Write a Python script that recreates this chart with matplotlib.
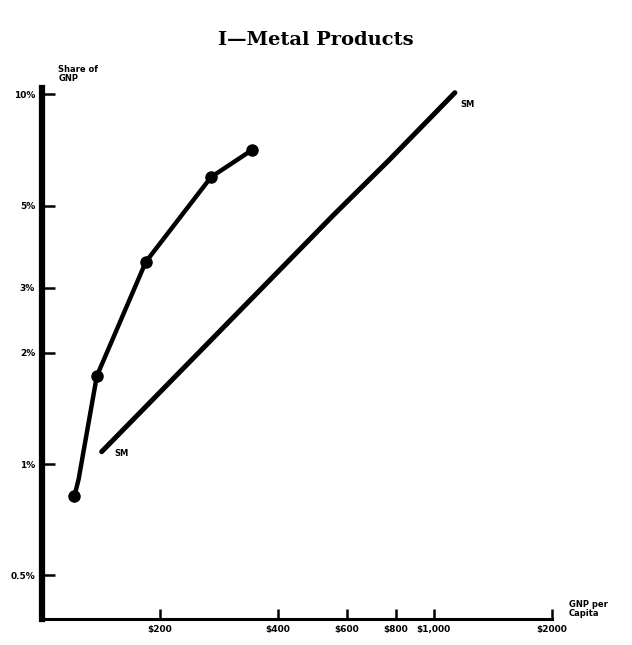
"""
plot.py - Metal products: share of GNP vs GNP per capita (log-log).
"""

import matplotlib
matplotlib.use('Agg')
import matplotlib.pyplot as plt
from matplotlib.ticker import FixedLocator, NullLocator

TITLE = 'I\u2014Metal Products'

# growth curve with dots
curve_gnp = [121, 124, 138, 184, 270, 343]
curve_share = [0.82, 0.91, 1.73, 3.52, 5.97, 7.06]

# "SM" reference line
sm_gnp = [142, 553, 768, 1132]
sm_share = [1.08, 4.70, 6.63, 10.1]

x_ticks = [200, 400, 600, 800, 1000, 2000]
x_labels = ['$200', '$400', '$600', '$800', '$1,000', '$2000']
y_ticks = [0.5, 1, 2, 3, 5, 10]
y_labels = ['0.5%', '1%', '2%', '3%', '5%', '10%']


def main():
    fig = plt.figure(figsize=(6.32, 6.45), dpi=100)
    ax = fig.add_axes([0.0665, 0.0403, 0.8065, 0.8233])

    ax.set_xscale('log')
    ax.set_yscale('log')
    ax.set_xlim(100, 2000)
    ax.set_ylim(0.381, 10.4)

    ax.plot(curve_gnp, curve_share, color='black', lw=3.2,
            solid_capstyle='round', zorder=3)
    ax.plot([curve_gnp[0]] + curve_gnp[2:], [curve_share[0]] + curve_share[2:],
            'o', color='black', ms=8, zorder=4)
    ax.plot(sm_gnp, sm_share, color='black', lw=3.6,
            solid_capstyle='round', zorder=3)

    ax.text(sm_gnp[0] * 1.08, sm_share[0] * 0.99, 'SM', fontsize=6,
            fontweight='bold', ha='left', va='center')
    ax.text(sm_gnp[-1] * 1.03, sm_share[-1] * 0.93, 'SM', fontsize=6,
            fontweight='bold', ha='left', va='center')

    for side in ['top', 'right']:
        ax.spines[side].set_visible(False)
    ax.spines['left'].set_linewidth(4.5)
    ax.spines['bottom'].set_linewidth(2.2)

    ax.xaxis.set_major_locator(FixedLocator(x_ticks))
    ax.xaxis.set_minor_locator(NullLocator())
    ax.set_xticklabels(x_labels)
    ax.yaxis.set_major_locator(FixedLocator(y_ticks))
    ax.yaxis.set_minor_locator(NullLocator())
    ax.set_yticklabels(y_labels)

    ax.tick_params(axis='x', direction='in', length=7, width=1.8, pad=4,
                   labelsize=6.5)
    ax.tick_params(axis='y', direction='in', length=9, width=1.8, pad=5,
                   labelsize=6.5)
    for lab in ax.get_xticklabels() + ax.get_yticklabels():
        lab.set_fontweight('bold')

    fig.text(0.092, 0.885, 'Share of\nGNP', fontsize=6, fontweight='bold',
             ha='left', va='center', linespacing=1.0)
    fig.text(0.900, 0.056, 'GNP per\nCapita', fontsize=6, fontweight='bold',
             ha='left', va='center', linespacing=1.1)

    fig.text(0.5, 0.938, TITLE, fontsize=14, fontweight='bold',
             family='DejaVu Serif', ha='center', va='center')

    fig.savefig('out.png', dpi=100, facecolor='white')
    plt.close(fig)


if __name__ == '__main__':
    main()
